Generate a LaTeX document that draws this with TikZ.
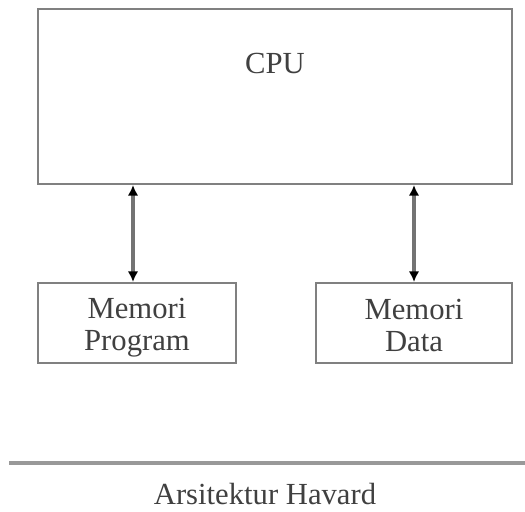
\documentclass[tikz,border=0pt]{standalone}
\usepackage{fontspec}
\setmainfont{Liberation Serif}
\usetikzlibrary{arrows.meta,calc}
\tikzset{
    box/.style =    {rectangle,
                    fill=white,
                    draw=gray,
                    line width=1.6pt,
                    inner sep=0pt},
    mem/.style =    {box,
                    minimum height=60pt},
    lbl/.style =    {text=black!75,
                    inner sep=0pt,
                    align=center,
                    font=\fontsize{23}{24}\selectfont},
    bus/.style =    {<->,
                    draw=black!55,
                    line width=2.5pt},
    rule/.style =   {draw=gray!80,
                    line width=3pt},
    >={Latex[length=8pt,width=8pt,black]}}
\begin{document}
\begin{tikzpicture}[x=0.75pt,y=-0.75pt]
            \useasboundingbox (0,0) rectangle (525,511);

            \node[box,minimum width=355.5pt,minimum height=131.25pt] (cpu)  at (275,96.5) {};
            \node[mem,minimum width=148.5pt]                         (prog) at (137,323)  {};
            \node[mem,minimum width=147pt]                           (data) at (414,323)  {};

            \node[lbl]  (cpulbl)  at (275,63)  {CPU};
            \node[lbl]  (proglbl) at (137,328) {Memori\\Program};
            \node[lbl]  (datalbl) at (414,325) {Memori\\Data};

            \draw[bus]  ([xshift=-3pt]prog.north |- cpu.south) -- ([xshift=-3pt]prog.north);
            \draw[bus]  (data.north |- cpu.south) -- (data.north);

            \coordinate (rl) at (9,463);
            \coordinate (rr) at (525,463);
            \draw[rule] (rl) -- (rr);
            \node[lbl]  (title) at (265,494) {Arsitektur Havard};
        \end{tikzpicture}
\end{document}
